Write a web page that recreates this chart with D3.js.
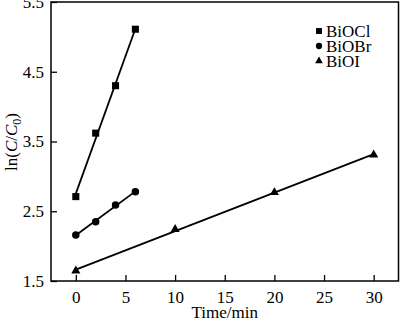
<!DOCTYPE html>
<html><head><meta charset="utf-8">
<script src="https://cdn.jsdelivr.net/npm/d3@7"></script>
<style>body{margin:0;background:#fff}svg{display:block}text{font-family:"Liberation Serif","Times New Roman",serif;fill:#000}</style>
</head><body><svg id="c" width="400" height="322"></svg>
<script>
const seriesNames = ["BiOCl","BiOBr","BiOI"];
const xCl = [0,2,4,6];
const yCl = [2.71,3.62,4.30,5.11];
const xBr = [0,2,4,6];
const yBr = [2.16,2.35,2.59,2.78];
const xI = [0,10,20,30];
const yI = [1.645,2.24,2.77,3.31];
const xTicks = [0,5,10,15,20,25,30];
const yTicks = [1.5,2.5,3.5,4.5,5.5];

const svg = d3.select("#c");
const L=51,R=398.5,T=2,B=281;
const x = d3.scaleLinear().domain([-2.5,32.5]).range([L,R]);
const y = d3.scaleLinear().domain([1.5,5.5]).range([B,T]);

svg.append("rect").attr("x",L).attr("y",T).attr("width",R-L).attr("height",B-T)
  .attr("fill","none").attr("stroke","#000").attr("stroke-width",1.5);

const gx = svg.append("g").attr("transform",`translate(0,${B})`)
  .call(d3.axisBottom(x).tickValues(xTicks).tickSizeInner(-6).tickSizeOuter(0).tickPadding(10).tickFormat(d3.format("d")));
const gy = svg.append("g").attr("transform",`translate(${L},0)`)
  .call(d3.axisLeft(y).tickValues(yTicks).tickSizeInner(-6).tickSizeOuter(0).tickPadding(7).tickFormat(d3.format(".1f")));
[gx,gy].forEach(g=>{
  g.select(".domain").remove();
  g.selectAll(".tick line").attr("stroke","#000").attr("stroke-width",1.3);
  g.selectAll(".tick text").attr("font-size",17).attr("font-family","Liberation Serif").attr("fill","#000");
});

function fit(xs,ys){
  const n=xs.length, mx=d3.mean(xs), my=d3.mean(ys);
  let sxy=0,sxx=0; for(let i=0;i<n;i++){sxy+=(xs[i]-mx)*(ys[i]-my);sxx+=(xs[i]-mx)**2;}
  const b=sxy/sxx, a=my-b*mx; return v=>a+b*v;
}
const series=[
  {xs:xCl,ys:yCl,sym:d3.symbolSquare,size:50},
  {xs:xBr,ys:yBr,sym:d3.symbolCircle,size:44},
  {xs:xI,ys:yI,sym:d3.symbolTriangle,size:36}
];
series.forEach(s=>{
  const f=fit(s.xs,s.ys);
  const x0=d3.min(s.xs), x1=d3.max(s.xs);
  svg.append("line").attr("x1",x(x0)).attr("y1",y(f(x0))).attr("x2",x(x1)).attr("y2",y(f(x1)))
    .attr("stroke","#000").attr("stroke-width",1.8);
  svg.selectAll(null).data(s.xs.map((v,i)=>[v,s.ys[i]])).enter().append("path")
    .attr("d",d3.symbol().type(s.sym).size(s.size))
    .attr("transform",d=>`translate(${x(d[0])},${y(d[1])})`).attr("fill","#000");
});

// legend
const leg = svg.append("g");
seriesNames.forEach((n,i)=>{
  const yy=31+i*15;
  leg.append("path").attr("d",d3.symbol().type(series[i].sym).size(series[i].size*0.7)())
    .attr("transform",`translate(319,${yy})`).attr("fill","#000");
  leg.append("text").attr("x",326).attr("y",yy).attr("dy","0.35em").attr("font-size",17).text(n);
});

// axis titles
svg.append("text").attr("x",(L+R)/2).attr("y",318).attr("text-anchor","middle").attr("font-size",17).text("Time/min");
const yt = svg.append("text").attr("transform","translate(17,142) rotate(-90)").attr("text-anchor","middle").attr("font-size",17);
yt.append("tspan").text("ln(");
yt.append("tspan").attr("font-style","italic").text("C");
yt.append("tspan").text("/");
yt.append("tspan").attr("font-style","italic").text("C");
yt.append("tspan").attr("font-size",12).attr("dy",4).text("0");
yt.append("tspan").attr("dy",-4).text(")");
</script></body></html>
